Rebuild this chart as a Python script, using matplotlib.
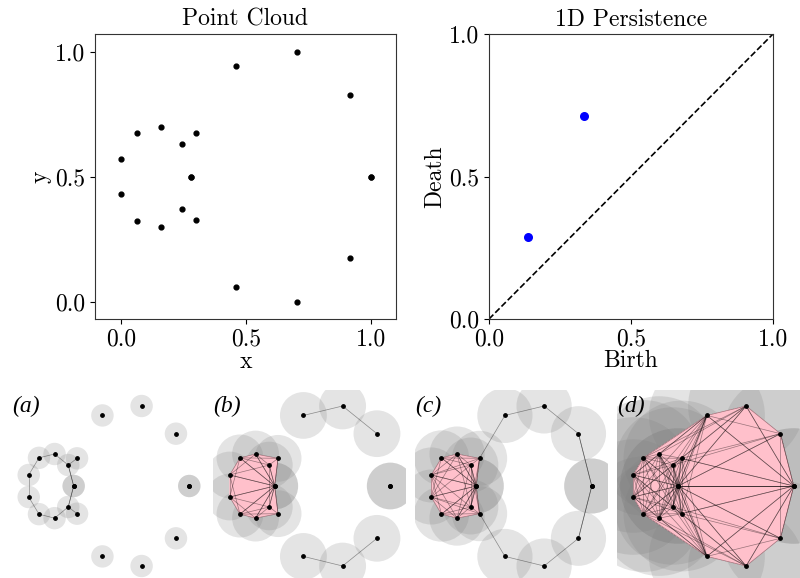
import numpy as np
import matplotlib
matplotlib.use("Agg")
import matplotlib.pyplot as plt
from matplotlib.patches import Circle, Polygon
from matplotlib.ticker import FormatStrFormatter
from itertools import combinations

plt.rcParams['font.family'] = 'serif'
plt.rcParams['font.serif'] = ['cmr10']
plt.rcParams['mathtext.fontset'] = 'cm'
plt.rcParams['axes.formatter.use_mathtext'] = True

# point cloud: small loop + large loop (two points appear twice)
pts_x = [0.280, 0.246, 0.161, 0.064, 0.000, 0.000, 0.064, 0.161, 0.246, 0.301, 0.301,
         1.000, 0.917, 0.703, 0.459, 0.280, 0.459, 0.703, 0.917, 1.000]
pts_y = [0.500, 0.631, 0.700, 0.676, 0.569, 0.431, 0.324, 0.299, 0.369, 0.673, 0.327,
         0.500, 0.827, 1.000, 0.941, 0.500, 0.060, 0.000, 0.173, 0.500]

# 1D persistence pairs
births = [0.138, 0.336]
deaths = [0.287, 0.713]

# ball radii for the four snapshots
radii = [0.070, 0.146, 0.172, 0.361]
panel_labels = ['(a)', '(b)', '(c)', '(d)']

W, H = 800, 578
fig = plt.figure(figsize=(W / 100, H / 100), dpi=100)


def rect(left, top, w, h):
    return [left / W, (H - top - h) / H, w / W, h / H]


fs = 17

# --- point cloud ---
ax1 = fig.add_axes(rect(95, 34, 301, 285))
ax1.scatter(pts_x, pts_y, s=12, c='k', zorder=3)
ax1.set_xlim(-0.103, 1.1)
ax1.set_ylim(-0.07, 1.07)
ax1.set_xticks([0, 0.5, 1.0])
ax1.set_yticks([0, 0.5, 1.0])
ax1.set_title('Point Cloud', fontsize=fs)
ax1.set_xlabel('x', fontsize=fs, labelpad=0)
ax1.set_ylabel('y', fontsize=fs)
ax1.yaxis.set_label_coords(-0.145, 0.5)

# --- persistence diagram ---
ax2 = fig.add_axes(rect(489, 34, 284, 285))
ax2.plot([0, 1], [0, 1], 'k--', lw=1.2)
ax2.scatter(births, deaths, s=30, c='b', zorder=3)
ax2.set_xlim(0, 1)
ax2.set_ylim(0, 1)
ax2.set_xticks([0, 0.5, 1.0])
ax2.set_yticks([0, 0.5, 1.0])
ax2.set_title('1D Persistence', fontsize=fs)
ax2.set_xlabel('Birth', fontsize=fs, labelpad=-1)
ax2.set_ylabel('Death', fontsize=fs, labelpad=2)

for ax in (ax1, ax2):
    ax.tick_params(labelsize=fs)
    ax.xaxis.set_major_formatter(FormatStrFormatter('%.1f'))
    ax.yaxis.set_major_formatter(FormatStrFormatter('%.1f'))
    for s in ax.spines.values():
        s.set_color('#333333')

# --- filtration snapshots ---
P = np.column_stack([pts_x, pts_y])
D = np.sqrt(((P[:, None, :] - P[None, :, :]) ** 2).sum(-1))
n = len(P)
lefts = [12.5, 213.5, 415, 617]

for left, r, lab in zip(lefts, radii, panel_labels):
    ax = fig.add_axes(rect(left, 390, 193, 192))
    for x, y in P:
        ax.add_patch(Circle((x, y), r, fc='grey', ec='none', alpha=0.21, zorder=1))
    eps = 2 * r
    for i, j, k in combinations(range(n), 3):
        if D[i, j] < eps and D[j, k] < eps and D[i, k] < eps:
            ax.add_patch(Polygon(P[[i, j, k]], closed=True, fc='pink', ec='none', zorder=2))
    for i, j in combinations(range(n), 2):
        if 0 < D[i, j] < eps:
            ax.plot(P[[i, j], 0], P[[i, j], 1], color='k', lw=0.5, alpha=0.4, zorder=3)
    ax.scatter(P[:, 0], P[:, 1], s=6, c='k', zorder=4)
    ax.set_xlim(-0.101, 1.101)
    ax.set_ylim(-0.1, 1.1)
    ax.set_aspect('equal', adjustable='datalim')
    ax.axis('off')
    ax.text(0.0, 0.97, lab, transform=ax.transAxes, ha='left', va='top',
            fontsize=17, family='Liberation Serif', style='italic', zorder=5)

fig.savefig('out.png', dpi=100)
